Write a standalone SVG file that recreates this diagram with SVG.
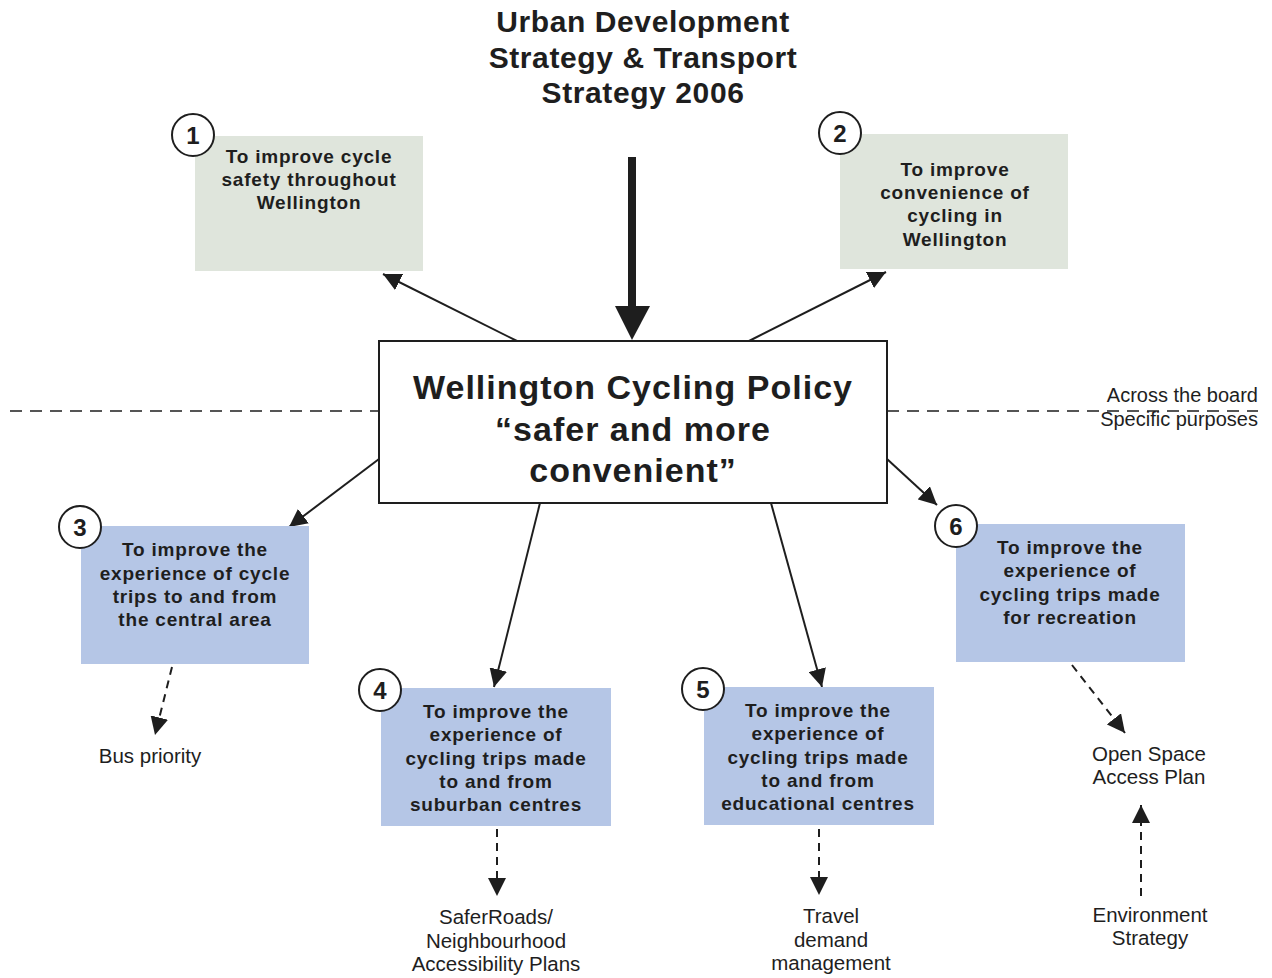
<svg xmlns="http://www.w3.org/2000/svg" width="1272" height="978" viewBox="0 0 1272 978">
<defs>
<style>
text{font-family:"Liberation Sans",Arial,sans-serif;fill:#1e1e1e;text-anchor:middle}
.title{font-size:30px;font-weight:bold;letter-spacing:0.6px}
.main{font-size:34px;font-weight:bold;letter-spacing:1px}
.obj{font-size:19px;font-weight:bold;letter-spacing:0.8px}
.lbl{font-size:20.5px}
.side{font-size:20px;text-anchor:end}
.num{font-size:24px;font-weight:bold}
.green{fill:#dfe5dc}
.blue{fill:#b5c6e6}
.circ{fill:#fff;stroke:#1e1e1e;stroke-width:2}
.solid{stroke:#1e1e1e;stroke-width:2;fill:none;marker-end:url(#ah)}
.dash{stroke:#1e1e1e;stroke-width:2;fill:none;stroke-dasharray:8 6;marker-end:url(#ah)}
.divider{stroke:#1e1e1e;stroke-width:1.6;stroke-dasharray:12 8}
</style>
<marker id="ah" markerUnits="userSpaceOnUse" markerWidth="20" markerHeight="18" refX="18" refY="9" orient="auto">
<path d="M0,0 L18,9 L0,18 Z" fill="#1e1e1e"/>
</marker>
</defs>
<rect width="1272" height="978" fill="#fff"/>

<g id="title">
<text class="title" x="643" y="32">Urban Development</text>
<text class="title" x="643" y="68">Strategy &amp; Transport</text>
<text class="title" x="643" y="103">Strategy 2006</text>
</g>

<g id="divider">
<line class="divider" x1="10" y1="411" x2="379" y2="411"/>
<line class="divider" x1="887" y1="411" x2="1258" y2="411"/>
<text class="side" x="1258" y="402">Across the board</text>
<text class="side" x="1258" y="426">Specific purposes</text>
</g>

<g id="connectors">
<line x1="632" y1="157" x2="632" y2="310" stroke="#1e1e1e" stroke-width="8"/>
<path d="M615,306 L650,306 L632,340 Z" fill="#1e1e1e"/>
<line class="solid" x1="517" y1="341" x2="383" y2="274"/>
<line class="solid" x1="749" y1="341" x2="886" y2="272"/>
<line class="solid" x1="379" y1="459" x2="289" y2="527"/>
<line class="solid" x1="540" y1="503" x2="494" y2="687"/>
<line class="solid" x1="771" y1="503" x2="822" y2="687"/>
<line class="solid" x1="887" y1="459" x2="937" y2="505"/>
<line class="dash" x1="172" y1="667" x2="155" y2="735"/>
<line class="dash" x1="497" y1="829" x2="497" y2="896"/>
<line class="dash" x1="819" y1="829" x2="819" y2="895"/>
<line class="dash" x1="1072" y1="665" x2="1125" y2="733"/>
<line class="dash" x1="1141" y1="896" x2="1141" y2="805"/>
</g>

<g id="policy">
<rect x="379" y="341" width="508" height="162" fill="#fff" stroke="#1e1e1e" stroke-width="2"/>
<text class="main" x="633" y="399">Wellington Cycling Policy</text>
<text class="main" x="633" y="441">“safer and more</text>
<text class="main" x="633" y="482">convenient”</text>
</g>

<g id="obj1">
<rect class="green" x="195" y="136" width="228" height="135"/>
<circle class="circ" cx="193" cy="135" r="21"/>
<text class="num" x="193" y="144">1</text>
<text class="obj" x="309" y="163">To improve cycle</text>
<text class="obj" x="309" y="186">safety throughout</text>
<text class="obj" x="309" y="209">Wellington</text>
</g>

<g id="obj2">
<rect class="green" x="840" y="134" width="228" height="135"/>
<circle class="circ" cx="840" cy="133" r="21"/>
<text class="num" x="840" y="142">2</text>
<text class="obj" x="955" y="176">To improve</text>
<text class="obj" x="955" y="199">convenience of</text>
<text class="obj" x="955" y="222">cycling in</text>
<text class="obj" x="955" y="246">Wellington</text>
</g>

<g id="obj3">
<rect class="blue" x="81" y="526" width="228" height="138"/>
<circle class="circ" cx="80" cy="527" r="21"/>
<text class="num" x="80" y="536">3</text>
<text class="obj" x="195" y="556">To improve the</text>
<text class="obj" x="195" y="580">experience of cycle</text>
<text class="obj" x="195" y="603">trips to and from</text>
<text class="obj" x="195" y="626">the central area</text>
</g>

<g id="obj4">
<rect class="blue" x="381" y="688" width="230" height="138"/>
<circle class="circ" cx="380" cy="690" r="21"/>
<text class="num" x="380" y="699">4</text>
<text class="obj" x="496" y="718">To improve the</text>
<text class="obj" x="496" y="741">experience of</text>
<text class="obj" x="496" y="765">cycling trips made</text>
<text class="obj" x="496" y="788">to and from</text>
<text class="obj" x="496" y="811">suburban centres</text>
</g>

<g id="obj5">
<rect class="blue" x="704" y="687" width="230" height="138"/>
<circle class="circ" cx="703" cy="689" r="21"/>
<text class="num" x="703" y="698">5</text>
<text class="obj" x="818" y="717">To improve the</text>
<text class="obj" x="818" y="740">experience of</text>
<text class="obj" x="818" y="764">cycling trips made</text>
<text class="obj" x="818" y="787">to and from</text>
<text class="obj" x="818" y="810">educational centres</text>
</g>

<g id="obj6">
<rect class="blue" x="956" y="524" width="229" height="138"/>
<circle class="circ" cx="956" cy="526" r="21"/>
<text class="num" x="956" y="535">6</text>
<text class="obj" x="1070" y="554">To improve the</text>
<text class="obj" x="1070" y="577">experience of</text>
<text class="obj" x="1070" y="601">cycling trips made</text>
<text class="obj" x="1070" y="624">for recreation</text>
</g>

<g id="bus">
<text class="lbl" x="150" y="763">Bus priority</text>
</g>
<g id="safer">
<text class="lbl" x="496" y="924">SaferRoads/</text>
<text class="lbl" x="496" y="948">Neighbourhood</text>
<text class="lbl" x="496" y="971">Accessibility Plans</text>
</g>
<g id="travel">
<text class="lbl" x="831" y="923">Travel</text>
<text class="lbl" x="831" y="947">demand</text>
<text class="lbl" x="831" y="970">management</text>
</g>
<g id="openspace">
<text class="lbl" x="1149" y="761">Open Space</text>
<text class="lbl" x="1149" y="784">Access Plan</text>
</g>
<g id="environment">
<text class="lbl" x="1150" y="922">Environment</text>
<text class="lbl" x="1150" y="945">Strategy</text>
</g>
</svg>
